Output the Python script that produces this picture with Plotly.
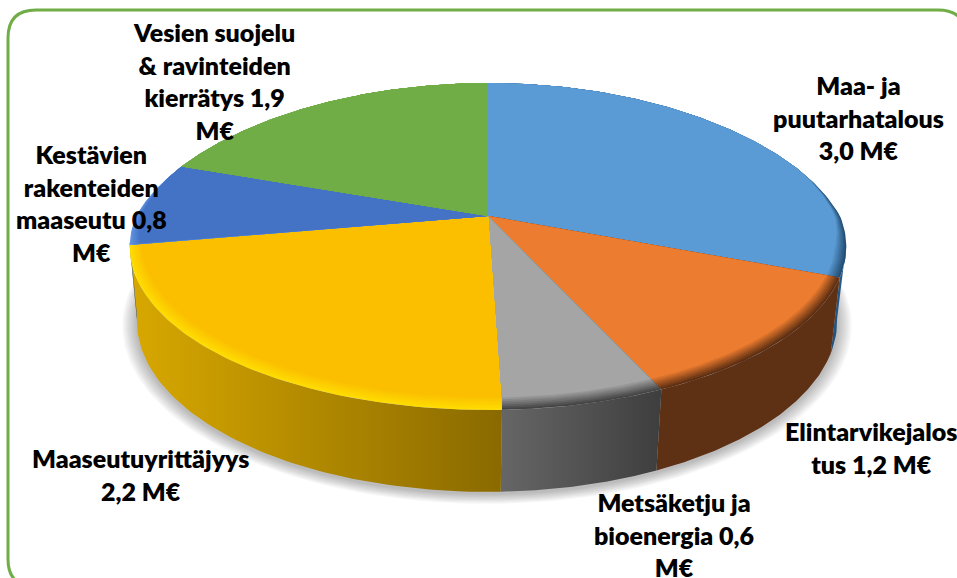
import numpy as np
import plotly.graph_objects as go

# Values in M€, clockwise from 12 o'clock
categories = ['Maa- ja puutarhatalous', 'Elintarvikejalostus', 'Metsäketju ja bioenergia',
              'Maaseutuyrittäjyys', 'Kestävien rakenteiden maaseutu', 'Vesien suojelu & ravinteiden kierrätys']
values = [3.0, 1.2, 0.6, 2.2, 0.8, 1.9]
labels = ['Maa- ja<br>puutarhatalous<br>3,0 M€', 'Elintarvikejalos<br>tus 1,2 M€',
          'Metsäketju ja<br>bioenergia 0,6<br>M€', 'Maaseutuyrittäjyys<br>2,2 M€',
          'Kestävien<br>rakenteiden<br>maaseutu 0,8<br>M€', 'Vesien suojelu<br>& ravinteiden<br>kierrätys 1,9<br>M€']
label_x = [858, 871, 674, 140, 91, 214]
label_y = [117, 447, 534, 474, 203, 81]
face_colors = ['#5B9BD5', '#EC7C30', '#A5A5A5', '#FBBF00', '#4472C4', '#70AD47']
rim_colors = ['#234F73', '#5E2F12', '#454545', '#FFDC00', '#5F92E0', '#70AD47']
wall_left = ['#1F4E79', '#5E3014', '#666666', '#D8A800', '#2F528F', '#4A7A2E']
wall_right = ['#2A5F8E', '#5E3014', '#3E3E3E', '#8A6A00', '#2F528F', '#4A7A2E']

# Perspective of the disk, in page pixels
K = 0.1865
K_BACK = 0.25
TOP = dict(x0=488, y0=216, a=157.8, b=352)
BOTTOM = dict(x0=487, y0=289, a=165, b=344)


def project(theta, r, disk):
    u = r * np.sin(theta)
    v = -r * np.cos(theta)
    w = 1 - K * v
    # back half narrows a bit faster than the front
    wx = 1 - np.where(v < 0, K_BACK, K) * v
    return disk['x0'] + disk['b'] * u / wx, disk['y0'] + disk['a'] * v / w


def blend(c1, c2, t):
    a = [int(c1[i:i + 2], 16) for i in (1, 3, 5)]
    b = [int(c2[i:i + 2], 16) for i in (1, 3, 5)]
    return 'rgb(%d,%d,%d)' % tuple(a[i] + (b[i] - a[i]) * t for i in range(3))


def add_poly(fig, x, y, color=None, gradient=None):
    trace = go.Scatter(x=x, y=y, mode='lines', fill='toself', line=dict(width=0),
                       hoverinfo='skip', showlegend=False)
    if gradient:
        trace.fillgradient = dict(type='horizontal', colorscale=[[0, gradient[0]], [1, gradient[1]]])
    else:
        trace.fillcolor = color
    fig.add_trace(trace)


fractions = np.cumsum([0] + values) / sum(values) * 2 * np.pi
fig = go.Figure()

# Soft shadow under the disk
for i in range(9):
    t = np.linspace(0, 2 * np.pi, 240)
    sx, sy = project(t, 1.04 - i * 0.0045, BOTTOM)
    add_poly(fig, sx, sy + 2, color='rgba(0,0,0,0.03)')

# Side walls, only the part in front of the silhouette
for i in range(len(values)):
    t = np.linspace(fractions[i], fractions[i + 1], 80)
    t = t[-np.cos(t) > K - 0.03]
    if len(t) < 2:
        continue
    x1, y1 = project(t, 1, TOP)
    x2, y2 = project(t[::-1], 1, BOTTOM)
    add_poly(fig, np.r_[x1, x2], np.r_[y1, y2], gradient=(wall_left[i], wall_right[i]))

# Top faces, bevel drawn as layers shrinking towards the rim
for i in range(len(values)):
    t = np.linspace(fractions[i], fractions[i + 1], 120)
    v = -np.cos(t)
    width = 0.025 * np.clip((v + 0.3) / 0.5, 0, 1) + 0.028 * np.clip(v, 0, 1)
    for step in np.linspace(0, 1, 8):
        x, y = project(t, 1 - width * step, TOP)
        add_poly(fig, np.r_[TOP['x0'], x], np.r_[TOP['y0'], y],
                 color=blend(rim_colors[i], face_colors[i], step))

for text, x, y in zip(labels, label_x, label_y):
    fig.add_annotation(x=x, y=y, text=text, showarrow=False, xanchor='center', yanchor='middle',
                       font=dict(family='Lato', size=25, color='#000000', weight=800))

fig.add_shape(type='path', xref='x', yref='y', line=dict(color='#70AD47', width=3),
              path='M 36 587 Q 8 587 8 559 L 8 38 Q 8 10 36 10 L 938 10 Q 966 10 966 38')

fig.update_layout(
    width=957, height=578, margin=dict(l=0, r=0, t=0, b=0),
    paper_bgcolor='white', plot_bgcolor='white', showlegend=False,
    xaxis=dict(range=[0, 957], visible=False),
    yaxis=dict(range=[578, 0], visible=False),
)

fig.write_html("out.html", config={'displayModeBar': False},
               post_script="document.body.style.margin='0';")
